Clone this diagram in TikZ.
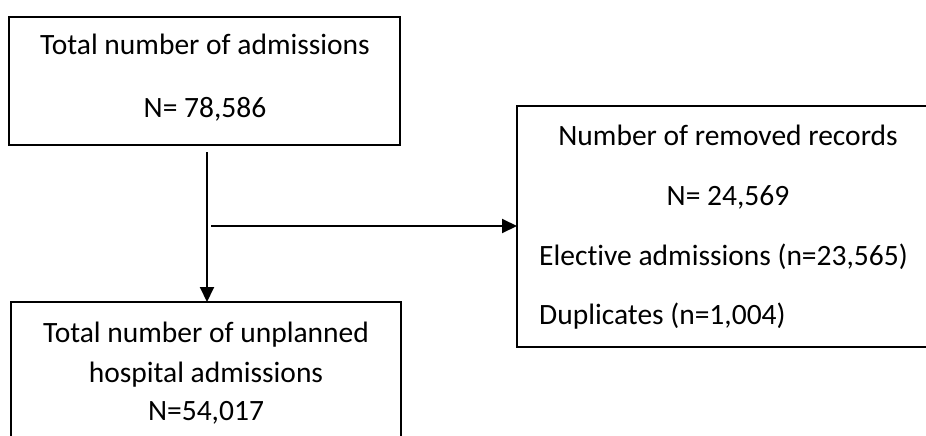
\documentclass[tikz,border=0pt]{standalone}
\usepackage{fontspec}
\setmainfont[Ligatures=NoCommon]{Carlito}
\usetikzlibrary{arrows.meta}
\begin{document}
\begin{tikzpicture}[x=1pt,y=-1pt,
  boxstyle/.style={draw=black,line width=2pt,inner sep=0pt,outer sep=0pt},
  txt/.style={anchor=base,inner sep=0pt,font=\fontsize{29.5}{35}\selectfont},
  ltxt/.style={anchor=base west,inner sep=0pt,font=\fontsize{29.5}{35}\selectfont},
  conn/.style={draw=black,line width=2pt,-{Triangle[length=15pt,width=14pt]}}]
\useasboundingbox (0,0) rectangle (926,436);
\clip (0,0) rectangle (926,436);
% boxes
\node[boxstyle,minimum width=391pt,minimum height=128pt] (top) at (204.5,81) {};
\node[boxstyle,minimum width=390pt,minimum height=170pt] (bottom) at (206,387) {};
\node[boxstyle,minimum width=430pt,minimum height=241pt] (removed) at (732,226.5) {};
% texts
\node[txt] (t1) at (205,55) {Total number of admissions};
\node[txt] (t2) at (205,117) {N= 78,586};
\node[txt] (r1) at (728,145) {Number of removed records};
\node[txt] (r2) at (728,205) {N= 24,569};
\node[ltxt] (r3) at (539,265) {Elective admissions (n=23,565)};
\node[ltxt] (r4) at (539,324) {Duplicates (n=1,004)};
\node[txt] (b1) at (206,342) {Total number of unplanned};
\node[txt] (b2) at (206,382) {hospital admissions};
\node[txt] (b3) at (206,420) {N=54,017};
% connectors
\coordinate (vstart) at (207,152);
\coordinate (hstart) at (211,226);
\draw[conn] (vstart) -- (vstart |- bottom.north);
\draw[conn] (hstart) -- (hstart -| removed.west);
\end{tikzpicture}
\end{document}
